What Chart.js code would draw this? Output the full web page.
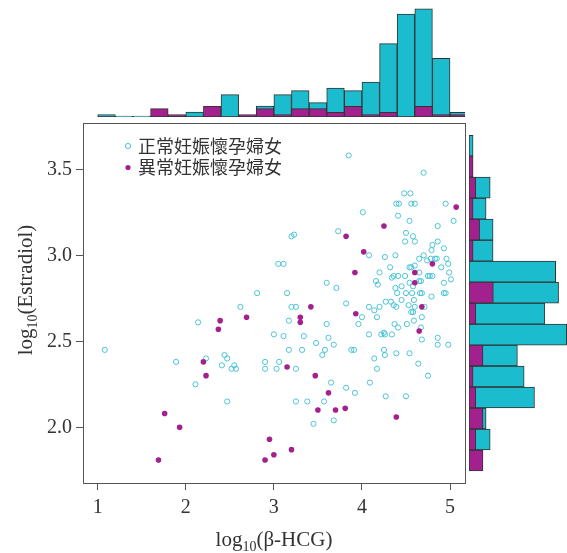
<!DOCTYPE html>
<html>
<head>
<meta charset="utf-8">
<script src="https://cdn.jsdelivr.net/npm/chart.js@4.4.1/dist/chart.umd.min.js"></script>
<style>
  body { margin: 0; background: #fff; }
  #wrap { position: relative; width: 567px; height: 553px; }
  #wrap canvas { position: absolute; left: 0; top: 0; }
</style>
</head>
<body>
<div id="wrap">
  <canvas id="scatterCanvas" width="567" height="553"></canvas>
  <canvas id="topHistCanvas" width="567" height="553"></canvas>
  <canvas id="rightHistCanvas" width="567" height="553"></canvas>
</div>
<script>
// log10(beta-HCG) / log10(Estradiol)
let normalX = [2.81, 2.62, 2.14, 3.00, 1.08, 1.89, 2.23, 2.44, 2.47, 2.41, 2.55, 2.52, 2.57, 2.90, 2.90, 3.03, 3.06, 2.11, 2.47,
  3.85, 4.39, 4.42, 4.01, 4.41, 3.73, 3.20, 3.23, 4.08, 4.26, 4.38, 3.05, 3.11, 4.32, 4.20, 4.34, 4.36, 4.41, 3.60, 4.16, 4.18,
  3.71, 4.38, 3.15, 3.20, 3.25, 3.82, 4.08, 4.20, 4.14, 4.27, 4.33, 4.36, 4.39, 4.40, 3.17, 3.60, 4.00, 4.17, 3.96, 4.37,
  3.11, 3.34, 3.62, 4.08, 4.22, 4.25, 4.26, 4.34, 3.48, 3.68, 3.17, 3.32, 3.58, 3.55, 3.88, 3.91, 4.25, 4.26, 4.39, 3.25,
  4.14, 4.17, 3.65, 4.09, 3.82, 3.92, 4.27, 3.25, 3.38, 3.57, 3.45, 3.68, 4.70, 4.48, 4.55, 4.56, 4.60, 4.95, 4.54, 5.04,
  4.86, 4.50, 4.58, 4.49, 4.60, 4.86, 4.80, 4.79, 4.93, 4.70, 4.78, 4.83, 4.85, 4.65, 4.96, 4.74, 4.98, 4.56, 4.54, 4.60,
  4.65, 4.90, 4.99, 4.75, 4.77, 4.80, 4.49, 5.01, 4.54, 4.65, 4.67, 4.93, 4.45, 4.58, 4.50, 4.57, 4.66, 4.68, 4.93, 4.95,
  4.45, 4.59, 4.79, 4.53, 4.60, 4.56, 4.58, 4.71, 4.68, 4.41, 4.51, 4.59, 4.67, 4.68, 4.86, 4.86, 4.98, 4.54, 4.64, 4.75, 4.50];
let normalY = [2.78, 2.70, 2.61, 2.54, 2.45, 2.38, 2.40, 2.42, 2.40, 2.36, 2.36, 2.34, 2.34, 2.38, 2.34, 2.34, 2.38, 2.25, 2.15,
  3.58, 3.30, 3.30, 3.25, 3.23, 3.14, 3.11, 3.12, 3.00, 2.99, 3.00, 2.95, 2.95, 2.93, 2.90, 2.87, 2.88, 2.88, 2.84, 2.85, 2.83,
  2.81, 2.81, 2.78, 2.70, 2.70, 2.72, 2.70, 2.70, 2.68, 2.73, 2.73, 2.71, 2.70, 2.78, 2.62, 2.60, 2.64, 2.64, 2.60, 2.60,
  2.53, 2.53, 2.52, 2.54, 2.54, 2.55, 2.54, 2.54, 2.49, 2.48, 2.45, 2.45, 2.45, 2.42, 2.45, 2.45, 2.45, 2.42, 2.43, 2.34,
  2.40, 2.34, 2.26, 2.26, 2.23, 2.20, 2.18, 2.15, 2.15, 2.15, 2.02, 2.04, 3.48, 3.36, 3.36, 3.30, 3.30, 3.30, 3.20, 3.20,
  3.17, 3.13, 3.11, 3.08, 3.08, 3.08, 3.06, 3.03, 3.04, 3.00, 2.98, 2.98, 2.98, 2.98, 2.98, 2.97, 2.95, 2.93, 2.93, 2.94,
  2.90, 2.93, 2.90, 2.88, 2.88, 2.88, 2.88, 2.86, 2.84, 2.85, 2.85, 2.84, 2.82, 2.82, 2.78, 2.78, 2.78, 2.78, 2.78, 2.78,
  2.74, 2.74, 2.76, 2.71, 2.70, 2.67, 2.67, 2.70, 2.64, 2.58, 2.60, 2.62, 2.58, 2.51, 2.52, 2.48, 2.48, 2.43, 2.37, 2.30, 2.18];
let abnormalX = [2.69, 2.39, 2.37, 2.20, 2.23, 1.76, 1.93, 1.69, 2.95, 3.00, 2.90, 4.25, 3.82, 4.02, 3.92, 3.42, 3.30,
  3.30, 3.93, 3.15, 3.47, 3.62, 3.50, 3.70, 3.81, 4.39, 3.20, 5.07, 4.80, 4.60, 4.60, 4.68, 4.65];
let abnormalY = [2.64, 2.62, 2.57, 2.38, 2.30, 2.08, 2.00, 1.81, 1.93, 1.84, 1.81, 3.17, 3.11, 3.02, 2.90, 2.70, 2.64,
  2.61, 2.66, 2.35, 2.30, 2.20, 2.10, 2.10, 2.11, 2.06, 1.87, 3.28, 2.95, 2.90, 2.84, 2.70, 2.56];

let seriesNames = ['正常妊娠懷孕婦女', '異常妊娠懷孕婦女'];
let xTicks = [1, 2, 3, 4, 5];
let yTicks = [2.0, 2.5, 3.0, 3.5];

// top histogram (bins of 0.2 on log10(beta-HCG))
let topBins = [1.1, 1.3, 1.5, 1.7, 1.9, 2.1, 2.3, 2.5, 2.7, 2.9, 3.1, 3.3, 3.5, 3.7, 3.9, 4.1, 4.3, 4.5, 4.7, 4.9, 5.1];
let topNormal = [1, 0, 0, 0, 0, 2.1, 0, 9.3, 0, 4.6, 9.3, 11, 6, 12, 11, 14.6, 30.6, 42.9, 45.1, 24.4, 1.9];
let topAbnormal = [0, 0, 0, 3.5, 1, 0, 4.4, 0, 1, 3.5, 1, 3.5, 3.5, 1.9, 4.4, 1, 1.9, 0, 4.4, 1, 1];

// right histogram (log10(Estradiol))
let rightBins = [1.807, 1.929, 2.051, 2.173, 2.295, 2.417, 2.539, 2.661, 2.783, 2.905, 3.027, 3.149, 3.271, 3.393, 3.515, 3.637];
let rightNormal = [0, 8.8, 7.1, 27.2, 22.9, 20.1, 40.6, 31.5, 37.2, 36, 10, 10, 7.1, 8.8, 0, 1.7];
let rightAbnormal = [5.8, 2.8, 5.8, 2.8, 1.7, 5.8, 0, 2.8, 10.1, 0, 1.7, 4.4, 1.7, 2.8, 1.7, 0];

const cyan = '#1bbccd';
const cyanRing = '#4cc4d8';
const magenta = '#a3218e';
const edge = '#333333';
const xMin = 0.833, xMax = 5.17, yMin = 1.676, yMax = 3.769;

function toPoints(xs, ys) {
    return xs.map((x, i) => ({x: x, y: ys[i]}));
}

function drawLogLabel(ctx, sub, rest, cx, baseY) {
    let big = '21px "Liberation Serif"', small = '14px "Liberation Serif"';
    ctx.font = big;
    let wa = ctx.measureText('log').width;
    let wb = ctx.measureText(rest).width;
    ctx.font = small;
    let ws = ctx.measureText(sub).width;
    let x = cx - (wa + ws + wb) / 2;
    ctx.textAlign = 'left';
    ctx.textBaseline = 'alphabetic';
    ctx.font = big;
    ctx.fillText('log', x, baseY);
    ctx.font = small;
    ctx.fillText(sub, x + wa, baseY + 5);
    ctx.font = big;
    ctx.fillText(rest, x + wa + ws, baseY);
}

// box, legend and axis titles
const decorations = {
    id: 'decorations',
    afterDraw(chart) {
        const {ctx, chartArea} = chart;
        ctx.save();
        ctx.strokeStyle = '#555';
        ctx.lineWidth = 1;
        ctx.strokeRect(chartArea.left + 0.5, chartArea.top + 0.5,
            chartArea.right - chartArea.left, chartArea.bottom - chartArea.top);

        let lx = chartArea.left + 45, ly = chartArea.top + 23;
        chart.data.datasets.forEach((ds, i) => {
            let y = ly + i * 21.5;
            ctx.beginPath();
            ctx.arc(lx, y, 2.6, 0, Math.PI * 2);
            if (i === 0) {
                ctx.strokeStyle = cyanRing;
                ctx.stroke();
            } else {
                ctx.fillStyle = magenta;
                ctx.fill();
            }
            ctx.fillStyle = '#333';
            ctx.font = '18px "Noto Sans CJK TC"';
            ctx.textAlign = 'left';
            ctx.textBaseline = 'middle';
            ctx.fillText(ds.label, lx + 10, y);
        });

        ctx.fillStyle = '#333';
        drawLogLabel(ctx, '10', '(β-HCG)', (chartArea.left + chartArea.right) / 2, 546);
        ctx.translate(32, 290);
        ctx.rotate(-Math.PI / 2);
        drawLogLabel(ctx, '10', '(Estradiol)', 0, 0);
        ctx.restore();
    }
};

let scatterCtx = document.getElementById('scatterCanvas').getContext('2d');

let scatterChart = new Chart(scatterCtx, {
    type: 'scatter',
    data: {
        datasets: [{
            label: seriesNames[0],
            data: toPoints(normalX, normalY),
            pointRadius: 2.6,
            borderWidth: 1,
            borderColor: cyanRing,
            backgroundColor: 'rgba(0,0,0,0)',
            order: 1
        }, {
            label: seriesNames[1],
            data: toPoints(abnormalX, abnormalY),
            pointRadius: 2.8,
            borderWidth: 0,
            backgroundColor: magenta,
            order: 0
        }]
    },
    options: {
        responsive: false,
        animation: false,
        layout: {padding: {left: 0, right: 102, top: 123, bottom: 0}},
        scales: {
            x: {
                type: 'linear',
                min: xMin,
                max: xMax,
                afterBuildTicks: s => { s.ticks = xTicks.map(v => ({value: v})); },
                afterFit: s => { s.height = 70; },
                grid: {drawOnChartArea: false, tickLength: 7, color: '#555'},
                border: {display: false},
                ticks: {color: '#333', padding: 6, font: {family: 'Liberation Serif', size: 20}}
            },
            y: {
                type: 'linear',
                min: yMin,
                max: yMax,
                afterBuildTicks: s => { s.ticks = yTicks.map(v => ({value: v})); },
                afterFit: s => { s.width = 83; },
                grid: {drawOnChartArea: false, tickLength: 7, color: '#555'},
                border: {display: false},
                ticks: {
                    color: '#333',
                    padding: 4,
                    font: {family: 'Liberation Serif', size: 20},
                    callback: v => v.toFixed(1)
                }
            }
        },
        plugins: {
            legend: {display: false},
            tooltip: {enabled: false}
        }
    },
    plugins: [decorations]
});

let topCtx = document.getElementById('topHistCanvas').getContext('2d');

let topHist = new Chart(topCtx, {
    type: 'bar',
    data: {
        datasets: [{
            label: seriesNames[0],
            data: toPoints(topBins, topNormal),
            backgroundColor: cyan,
            borderColor: edge,
            borderWidth: 1,
            borderSkipped: false,
            minBarLength: 1,
            order: 1
        }, {
            label: seriesNames[1],
            data: toPoints(topBins, topAbnormal),
            backgroundColor: magenta,
            borderColor: edge,
            borderWidth: 1,
            borderSkipped: false,
            order: 0
        }]
    },
    options: {
        responsive: false,
        animation: false,
        grouped: false,
        barPercentage: 1,
        categoryPercentage: 1,
        layout: {padding: {left: 83, right: 102, top: 0, bottom: 436}},
        scales: {
            x: {type: 'linear', min: xMin, max: xMax, offset: false, display: false},
            y: {min: 0, max: 48.75, display: false}
        },
        plugins: {
            legend: {display: false},
            tooltip: {enabled: false}
        }
    }
});

let rightCtx = document.getElementById('rightHistCanvas').getContext('2d');

let rightHist = new Chart(rightCtx, {
    type: 'bar',
    data: {
        datasets: [{
            label: seriesNames[0],
            data: rightBins.map((b, i) => ({x: rightNormal[i], y: b})),
            backgroundColor: cyan,
            borderColor: edge,
            borderWidth: 1,
            borderSkipped: false,
            order: 1
        }, {
            label: seriesNames[1],
            data: rightBins.map((b, i) => ({x: rightAbnormal[i], y: b})),
            backgroundColor: magenta,
            borderColor: edge,
            borderWidth: 1,
            borderSkipped: false,
            order: 0
        }]
    },
    options: {
        indexAxis: 'y',
        responsive: false,
        animation: false,
        grouped: false,
        barPercentage: 1,
        categoryPercentage: 1,
        layout: {padding: {left: 469, right: 0, top: 123, bottom: 70}},
        scales: {
            x: {min: 0, max: 40.7, display: false},
            y: {type: 'linear', min: yMin, max: yMax, offset: false, display: false}
        },
        plugins: {
            legend: {display: false},
            tooltip: {enabled: false}
        }
    }
});
</script>
</body>
</html>
